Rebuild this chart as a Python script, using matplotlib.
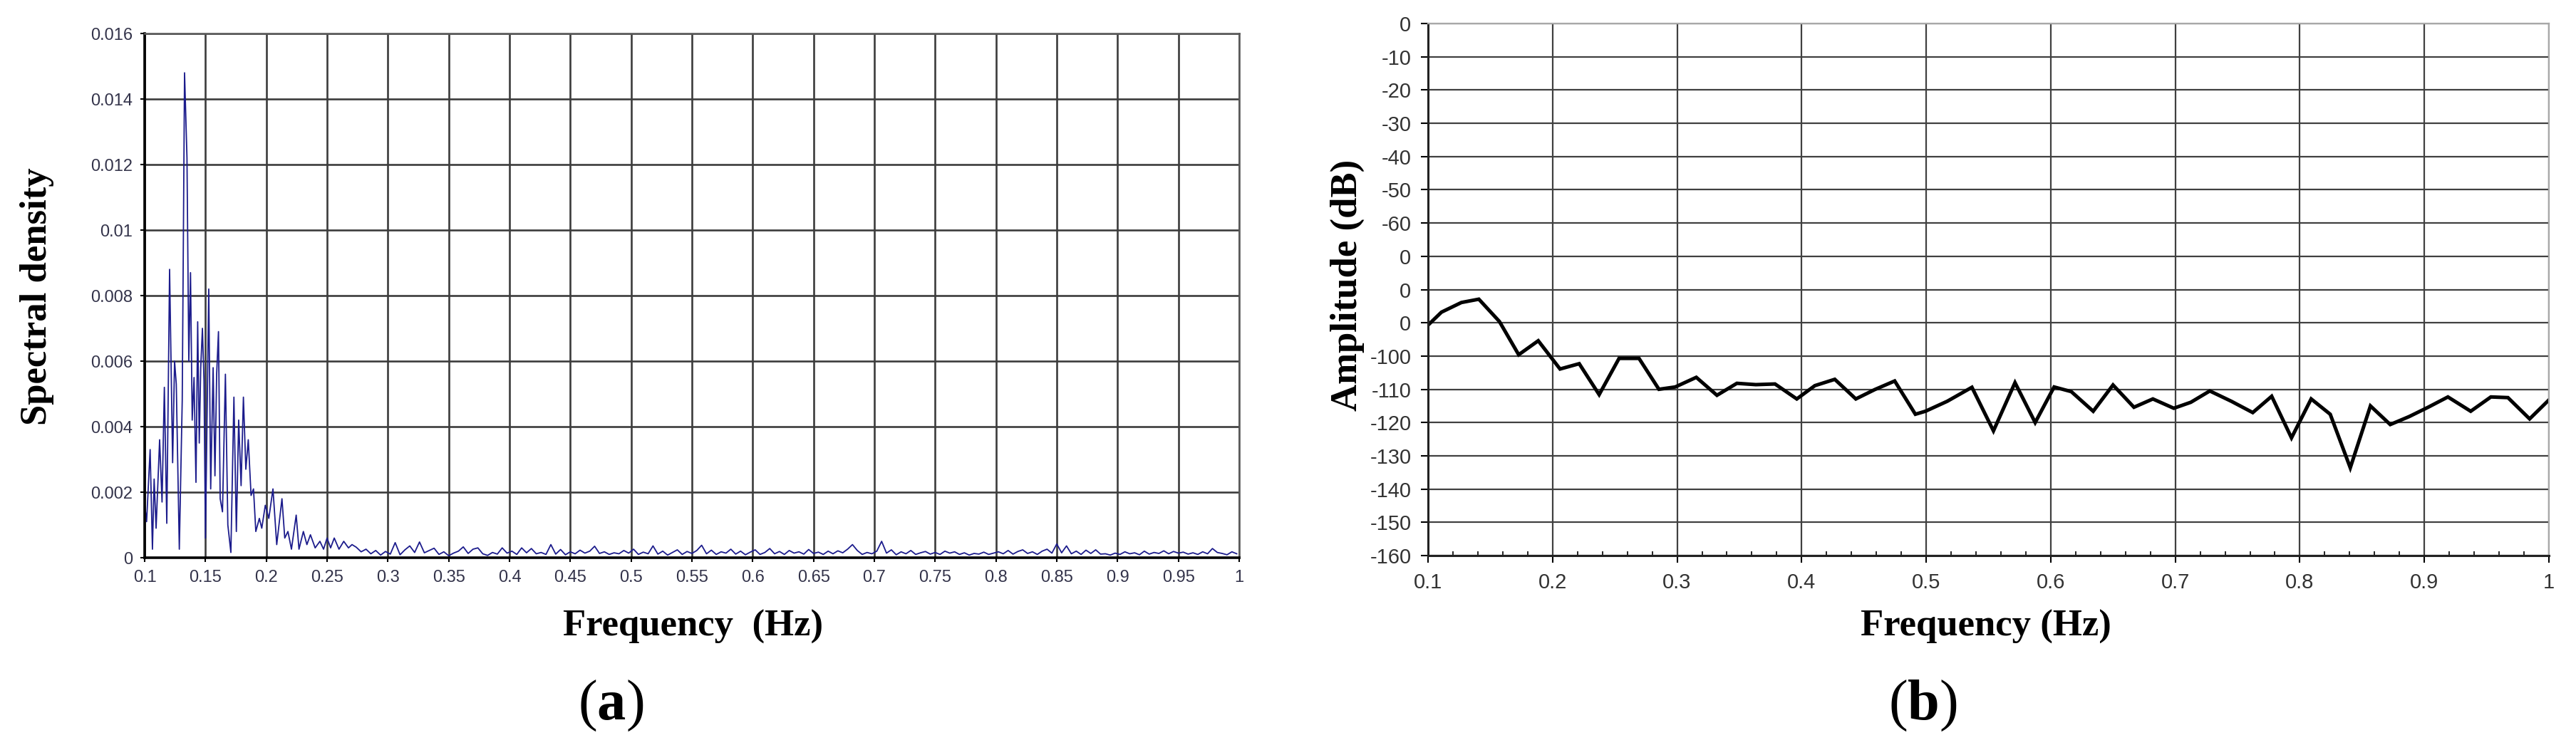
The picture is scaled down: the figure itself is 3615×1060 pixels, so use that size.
import numpy as np
import matplotlib
matplotlib.use("Agg")
import matplotlib.pyplot as plt

plt.rcParams['mathtext.fontset'] = 'custom'
plt.rcParams['mathtext.rm'] = 'Liberation Serif'
plt.rcParams['mathtext.bf'] = 'Liberation Serif:bold'

# (a) spectral density - peak region
freq_peak = [0.1, 0.1016, 0.1045, 0.1064, 0.1078, 0.1094, 0.1123, 0.1143, 0.1162, 0.1182,
             0.1205, 0.123, 0.1246, 0.126, 0.1285, 0.1309, 0.1328, 0.1348, 0.1363, 0.1377,
             0.1391, 0.1406, 0.1422, 0.1436, 0.1449, 0.1461, 0.1475, 0.1488, 0.15, 0.1527,
             0.1543, 0.1563, 0.1578, 0.1592, 0.1607, 0.1621, 0.164, 0.1664, 0.1684, 0.1709,
             0.1734, 0.1754, 0.1773, 0.1793, 0.1812, 0.1832, 0.1852, 0.1875, 0.1895, 0.1914,
             0.1943, 0.1963, 0.1992, 0.2021, 0.2055, 0.2086, 0.2129, 0.2152, 0.2178, 0.2207,
             0.2246, 0.2269, 0.2305, 0.2334, 0.2363, 0.2402, 0.2441, 0.2471, 0.25, 0.2529,
             0.2559, 0.2598, 0.2637, 0.2676, 0.2705]
psd_peak_e3 = [1.63, 1.1, 3.3, 0.26, 2.4, 0.9, 3.6, 1.7, 5.2, 1.05,
               8.8, 2.9, 6.0, 5.3, 0.26, 4.8, 14.8, 12.2, 6.0, 8.7,
               4.2, 5.5, 2.3, 7.2, 3.5, 5.8, 7.0, 5.4, 0.6, 8.2,
               2.1, 5.8, 2.5, 5.6, 6.9, 1.8, 1.4, 5.6, 1.0, 0.16,
               4.9, 0.8, 4.2, 2.2, 4.9, 2.7, 3.6, 1.9, 2.1, 0.8,
               1.2, 0.9, 1.6, 1.2, 2.1, 0.4, 1.8, 0.6, 0.8, 0.26,
               1.3, 0.26, 0.8, 0.4, 0.7, 0.3, 0.5, 0.26, 0.6, 0.3,
               0.6, 0.26, 0.5, 0.3, 0.4]

# (a) low noise tail 0.274 .. 0.998 (units of 1e-4)
psd_tail_e4 = [3.2, 1.8, 2.6, 1.2, 2.2, 0.8, 1.9,
               1.1, 4.6, 0.9, 2.4, 3.6, 1.6, 4.8, 1.5,
               2.2, 2.9, 1.0, 1.8, 0.6, 1.4, 2.0,
               3.3, 1.3, 2.6, 3.0, 1.2, 0.7, 1.6, 1.1,
               3.0, 1.4, 2.0, 1.0, 3.0, 1.5, 2.8, 1.2, 1.6, 1.0,
               4.0, 1.1, 2.5, 0.9, 1.8, 1.2, 2.3, 1.4, 2.0, 3.5,
               1.3, 1.8, 1.0, 1.5, 1.2, 2.2, 1.4, 2.6, 1.0, 1.7,
               1.2, 3.6, 1.1, 2.0, 0.8, 1.6, 2.4, 1.0, 1.9, 1.3,
               2.2, 3.8, 1.2, 2.3, 1.0, 1.8, 1.4, 2.6, 1.1, 2.0,
               0.9, 1.7, 2.4, 1.0, 1.6, 2.8, 1.2, 1.9, 1.0, 2.2,
               1.4, 1.8, 1.1, 2.5, 1.3, 1.7, 1.0, 2.0, 1.2, 2.1,
               1.5, 2.6, 4.0, 2.2, 1.0, 1.6, 1.2, 2.0, 5.0, 1.4,
               2.4, 0.9, 1.8, 1.2, 2.2, 1.0, 1.5, 1.9, 1.1, 1.6,
               1.0, 2.0, 1.4, 1.8, 1.0, 1.5, 0.8, 1.3, 1.1, 1.7,
               1.0, 1.4, 1.8, 1.2, 2.2, 1.1, 1.9, 2.4, 1.3, 1.8,
               1.0, 2.0, 2.6, 1.4, 4.2, 1.5, 3.6, 1.2, 2.0, 1.0,
               2.3, 1.3, 2.4, 1.1, 1.2, 0.8, 1.4, 1.0, 1.8, 1.2,
               1.5, 0.9, 2.0, 1.1, 1.6, 1.3, 2.1, 1.2, 1.9, 1.4,
               1.7, 1.1, 1.5, 1.0, 1.8, 1.2, 2.8, 1.6, 1.3, 0.9,
               1.8, 1.2]

a_xticks = [0.1, 0.15, 0.2, 0.25, 0.3, 0.35, 0.4, 0.45, 0.5, 0.55, 0.6, 0.65,
            0.7, 0.75, 0.8, 0.85, 0.9, 0.95, 1.0]
a_xlabels = ["0.1", "0.15", "0.2", "0.25", "0.3", "0.35", "0.4", "0.45", "0.5", "0.55",
             "0.6", "0.65", "0.7", "0.75", "0.8", "0.85", "0.9", "0.95", "1"]
a_yticks = [0, 0.002, 0.004, 0.006, 0.008, 0.01, 0.012, 0.014, 0.016]
a_ylabels = ["0", "0.002", "0.004", "0.006", "0.008", "0.01", "0.012", "0.014", "0.016"]

# (b) amplitude in dB
b_freq = [0.1, 0.1108, 0.1268, 0.1408, 0.1573, 0.1728, 0.1885, 0.206, 0.2214, 0.2374,
          0.2534, 0.2694, 0.2854, 0.2985, 0.3154, 0.332, 0.348, 0.3632, 0.3786, 0.3961,
          0.4106, 0.4266, 0.4435, 0.4586, 0.4747, 0.4913, 0.4994, 0.5169, 0.5367, 0.554,
          0.5713, 0.5875, 0.6027, 0.6165, 0.6341, 0.65, 0.6668, 0.682, 0.6988, 0.7125,
          0.7277, 0.745, 0.7622, 0.7774, 0.7933, 0.8091, 0.8244, 0.8405, 0.8567, 0.8726,
          0.8878, 0.903, 0.9189, 0.9372, 0.9534, 0.9671, 0.9845, 1.0]
b_amp = [-90.7, -86.8, -83.9, -82.9, -89.6, -99.6, -95.4, -103.9, -102.3, -111.6,
         -100.7, -100.7, -110.0, -109.3, -106.4, -111.8, -108.2, -108.6, -108.4, -112.9,
         -108.9, -107.0, -112.9, -110.1, -107.5, -117.5, -116.6, -113.6, -109.4, -122.5,
         -108.0, -120.0, -109.3, -110.7, -116.6, -108.7, -115.4, -112.9, -115.7, -113.9,
         -110.5, -113.6, -117.0, -112.1, -124.6, -112.9, -117.5, -133.6, -115.0, -120.6,
         -118.2, -115.4, -112.3, -116.6, -112.3, -112.5, -118.9, -113.2]

b_xticks = [0.1, 0.2, 0.3, 0.4, 0.5, 0.6, 0.7, 0.8, 0.9, 1.0]
b_xlabels = ["0.1", "0.2", "0.3", "0.4", "0.5", "0.6", "0.7", "0.8", "0.9", "1"]
b_yticks = [0, -10, -20, -30, -40, -50, -60, -70, -80, -90, -100, -110, -120, -130, -140, -150, -160]
b_ylabels = ["0", "-10", "-20", "-30", "-40", "-50", "-60", "0", "0", "0",
             "-100", "-110", "-120", "-130", "-140", "-150", "-160"]

W, H = 3615, 1060


def fx(x):
    return x / W


def fy(y):
    return 1 - y / H


freq_a = np.concatenate([freq_peak, np.linspace(0.274, 0.998, len(psd_tail_e4))])
psd_a = np.concatenate([np.array(psd_peak_e3) * 1e-3, np.array(psd_tail_e4) * 1e-4])

fig = plt.figure(figsize=(W / 100, H / 100), dpi=100)

# panel (a)
ax1 = fig.add_axes([fx(203), fy(783), fx(1739 - 203), (783 - 47) / H])
ax1.plot(freq_a, psd_a, color='#1c1c8c', lw=1.3)
ax1.set_xlim(0.1, 1.0)
ax1.set_ylim(0, 0.016)
ax1.set_xticks(a_xticks)
ax1.set_xticklabels(a_xlabels, fontsize=17, color='#33334a', family='Liberation Sans')
ax1.set_yticks(a_yticks)
ax1.set_yticklabels(a_ylabels, fontsize=17, color='#33334a', family='Liberation Sans')
ax1.grid(True, color='#3c3c3c', lw=1.9)
ax1.set_axisbelow(True)
for s in ['left', 'bottom']:
    ax1.spines[s].set_color('black')
    ax1.spines[s].set_linewidth(2.6)
for s in ['top', 'right']:
    ax1.spines[s].set_color('#5a5a5a')
    ax1.spines[s].set_linewidth(1.9)
ax1.tick_params(direction='out', length=4, width=1.5, pad=8)

fig.text(fx(52), fy(416), 'Spectral density', rotation=90, fontsize=38, fontweight='bold',
         family='Liberation Serif', ha='center', va='center')
fig.text(fx(973), fy(880), 'Frequency  (Hz)', fontsize=38, fontweight='bold',
         family='Liberation Serif', ha='center', va='center')
fig.text(fx(857), fy(990), r'$\mathrm{(}\mathbf{a}\mathrm{)}$', fontsize=58,
         ha='center', va='center')

# panel (b)
ax2 = fig.add_axes([fx(2004), fy(780), fx(3577 - 2004), (780 - 33) / H])
ax2.plot(b_freq, b_amp, color='black', lw=3.6, solid_joinstyle='miter')
ax2.set_xlim(0.1, 1.0)
ax2.set_ylim(-160, 0)
ax2.set_xticks(b_xticks)
ax2.set_xticklabels(b_xlabels, fontsize=21, color='#333333', family='Liberation Sans')
ax2.set_yticks(b_yticks)
ax2.set_yticklabels(b_ylabels, fontsize=21, color='#333333', family='Liberation Sans')
ax2.set_xticks(np.round(np.arange(0.12, 1.0, 0.02), 2), minor=True)
ax2.grid(True, which='major', color='#404040', lw=1.6)
ax2.set_axisbelow(True)
for s in ['left', 'bottom']:
    ax2.spines[s].set_color('#222222')
    ax2.spines[s].set_linewidth(2.2)
for s in ['top', 'right']:
    ax2.spines[s].set_color('#a8a8a8')
    ax2.spines[s].set_linewidth(1.6)
ax2.tick_params(which='major', direction='out', length=7, width=1.5, pad=10)
ax2.tick_params(which='minor', axis='x', direction='in', length=4, width=1.2)

fig.text(fx(1891), fy(400), 'Amplitude (dB)', rotation=90, fontsize=38, fontweight='bold',
         family='Liberation Serif', ha='center', va='center')
fig.text(fx(2787), fy(880), 'Frequency (Hz)', fontsize=38, fontweight='bold',
         family='Liberation Serif', ha='center', va='center')
fig.text(fx(2698), fy(990), r'$\mathrm{(}\mathbf{b}\mathrm{)}$', fontsize=58,
         ha='center', va='center')

fig.savefig('out.png', dpi=100, facecolor='white')
